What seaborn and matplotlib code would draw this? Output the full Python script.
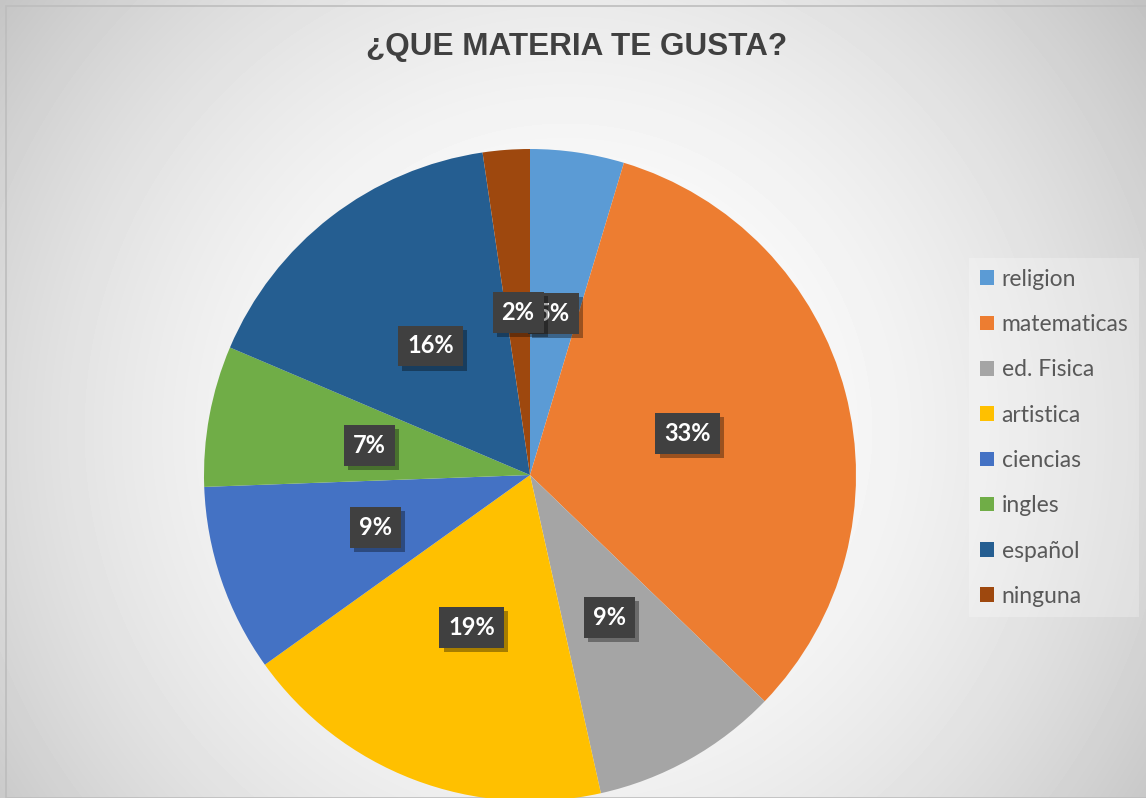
import numpy as np
import matplotlib
matplotlib.use("Agg")
import matplotlib.pyplot as plt
import matplotlib.patheffects as pe
import seaborn as sns

# datos del grafico (conteo de alumnos por materia)
materias = ["religion", "matematicas", "ed. Fisica", "artistica",
            "ciencias", "ingles", "español", "ninguna"]
alumnos = [2, 14, 4, 8, 4, 3, 7, 1]
colores = ["#5B9BD5", "#ED7D31", "#A5A5A5", "#FFC000",
           "#4472C4", "#70AD47", "#255E91", "#9E480E"]
titulo = "¿QUE MATERIA TE GUSTA?"

sns.set_theme(style="white")
plt.rcParams["font.family"] = ["Lato", "DejaVu Sans"]

W, H = 1146, 798
fig = plt.figure(figsize=(W / 100, H / 100), dpi=100)

# fondo con degradado radial tipo Excel
bg = fig.add_axes([0, 0, 1, 1], zorder=-10)
yy, xx = np.mgrid[0:H, 0:W]
d = np.hypot(xx - 565, yy - 430) / 710.0
val = np.clip(1 - 0.23 * d ** 2, 0, 1)
bg.imshow(val, cmap="gray", vmin=0, vmax=1, aspect="auto",
          extent=[0, 1, 0, 1], interpolation="bilinear")
bg.add_patch(plt.Rectangle((6 / W, 0), 1, 1 - 6 / H, fill=False,
                           ec="#bdbdbd", lw=1.2, transform=bg.transAxes))
bg.set_axis_off()

# pastel
cx, cy, r = 530, 475, 326
ax = fig.add_axes([(cx - r) / W, (H - cy - r) / H, 2 * r / W, 2 * r / H])
wedges, _, autotexts = ax.pie(alumnos, colors=colores, startangle=90,
                              counterclock=False, autopct="%1.0f%%",
                              pctdistance=0.5,
                              wedgeprops=dict(linewidth=0))
ax.set_xlim(-1, 1)
ax.set_ylim(-1, 1)
ax.set_aspect("equal")
ax.set_axis_off()

for t in autotexts:
    t.set_color("white")
    t.set_fontsize(17)
    t.set_fontweight("bold")
    t.set_bbox(dict(boxstyle="square,pad=0.38", fc="#404040", ec="none"))
    t.get_bbox_patch().set_path_effects(
        [pe.SimplePatchShadow(offset=(3, -3), shadow_rgbFace="black", alpha=0.35),
         pe.Normal()])

fig.text(0.503, 1 - 47 / H, titulo, ha="center", va="center",
         fontsize=22.7, fontweight="bold", color="#404040",
         family=["Liberation Sans", "DejaVu Sans"])

leg = fig.legend(wedges, materias, loc="upper left",
                 bbox_to_anchor=(958 / W, 1 - 247 / H),
                 bbox_transform=fig.transFigure,
                 fontsize=16.5, handlelength=0.6, handleheight=0.6,
                 handletextpad=0.35, labelspacing=1.06, borderpad=0.45,
                 frameon=True, fancybox=False)
leg.get_frame().set_facecolor("white")
leg.get_frame().set_alpha(0.25)
leg.get_frame().set_edgecolor("none")
for t in leg.get_texts():
    t.set_color("#595959")

fig.savefig("out.png", dpi=100)
